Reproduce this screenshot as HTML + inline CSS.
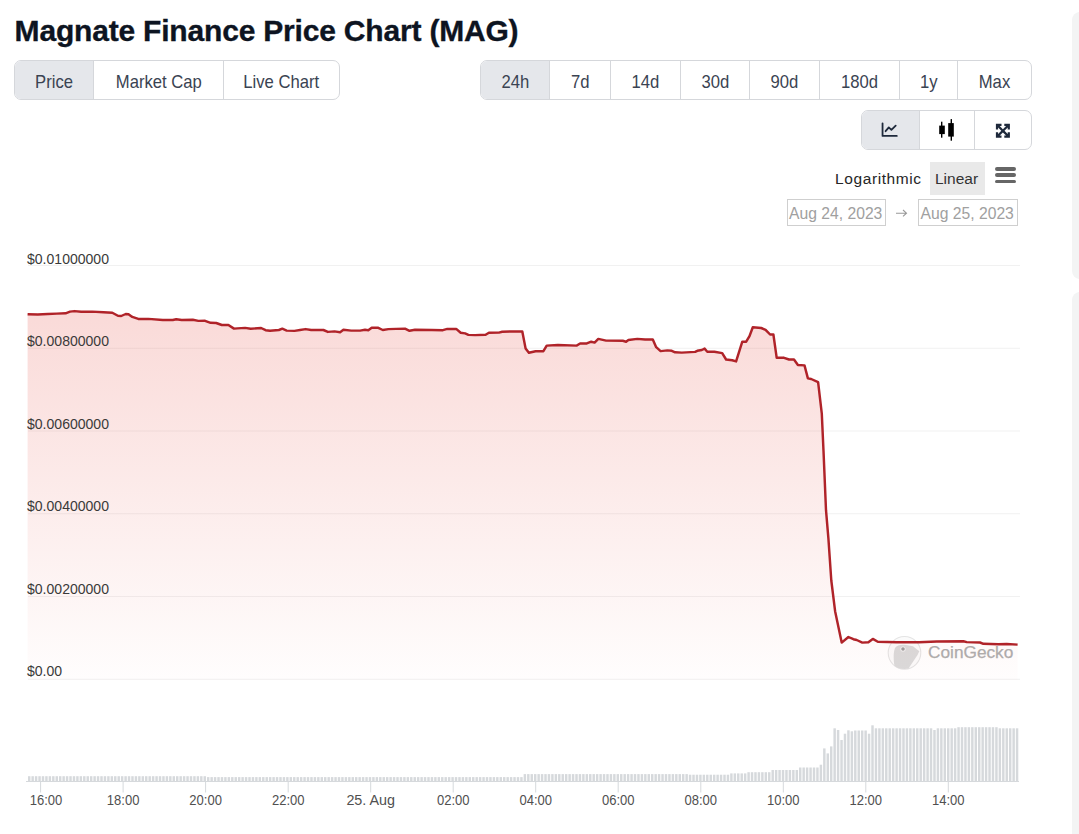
<!DOCTYPE html>
<html><head><meta charset="utf-8">
<style>
html,body{margin:0;padding:0;background:#fff;}
body{width:1079px;height:834px;overflow:hidden;position:relative;font-family:"Liberation Sans",sans-serif;}
.abs{position:absolute;}
h1{position:absolute;left:14.6px;top:13px;margin:0;font-size:30px;letter-spacing:-0.19px;-webkit-text-stroke:0.35px #0d1421;line-height:36px;font-weight:bold;color:#0d1421;white-space:nowrap;}
.grp{position:absolute;height:38px;border:1px solid #d5d7db;border-radius:7px;display:flex;overflow:hidden;background:#fff;}
.grp div{height:38px;line-height:41px;text-align:center;color:#3a4352;font-size:18.5px;border-left:1px solid #d5d7db;box-sizing:border-box;white-space:nowrap;}
.grp div:first-child{border-left:none;}
.grp div.on{background:#e5e7eb;}
.grp div span{display:inline-block;transform:scaleX(0.9);}
.side{position:absolute;left:1072px;width:20px;background:#f3f4f4;border-radius:8px;}
svg text{font-family:"Liberation Sans",sans-serif;}
</style></head>
<body>
<h1>Magnate Finance Price Chart (MAG)</h1>

<div class="grp" style="left:14px;top:60px;width:324px;">
  <div class="on" style="width:78px;"><span>Price</span></div>
  <div style="width:130px;"><span>Market Cap</span></div>
  <div style="width:116px;"><span>Live Chart</span></div>
</div>

<div class="grp" style="left:480px;top:60px;width:550px;">
  <div class="on" style="width:68px;"><span>24h</span></div>
  <div style="width:61px;"><span>7d</span></div>
  <div style="width:70px;"><span>14d</span></div>
  <div style="width:69px;"><span>30d</span></div>
  <div style="width:70px;"><span>90d</span></div>
  <div style="width:80px;"><span>180d</span></div>
  <div style="width:58px;"><span>1y</span></div>
  <div style="width:74px;"><span>Max</span></div>
</div>

<div class="grp" style="left:861px;top:110px;width:169px;">
  <div class="on" style="width:57px;"></div>
  <div style="width:55px;"></div>
  <div style="width:57px;"></div>
</div>

<div class="abs" style="left:835px;top:166.5px;font-size:15.5px;letter-spacing:0.6px;color:#262626;line-height:24px;">Logarithmic</div>
<div class="abs" style="left:930px;top:162px;width:55px;height:33px;background:#e9e9e9;"></div>
<div class="abs" style="left:935px;top:167px;font-size:15.5px;color:#333;line-height:24px;">Linear</div>
<div class="abs" style="left:995px;top:167px;width:21px;height:3.5px;background:#666;border-radius:2px;"></div>
<div class="abs" style="left:995px;top:173.3px;width:21px;height:3.5px;background:#666;border-radius:2px;"></div>
<div class="abs" style="left:995px;top:179.6px;width:21px;height:3.5px;background:#666;border-radius:2px;"></div>

<div class="abs" style="left:787px;top:199px;width:97px;height:25px;border:1px solid #cfcfcf;"></div>
<div class="abs" style="left:789px;top:201.5px;font-size:15.7px;color:#a0a0a0;line-height:24px;">Aug 24, 2023</div>

<div class="abs" style="left:918px;top:199px;width:98px;height:25px;border:1px solid #cfcfcf;"></div>
<div class="abs" style="left:920.5px;top:201.5px;font-size:15.7px;color:#a0a0a0;line-height:24px;">Aug 25, 2023</div>

<div class="side" style="top:12px;height:267px;"></div>
<div class="side" style="top:292px;height:560px;"></div>

<svg class="abs" style="left:0;top:0" width="1079" height="834" viewBox="0 0 1079 834">
  <defs>
    <linearGradient id="fg" x1="0" y1="311" x2="0" y2="680" gradientUnits="userSpaceOnUse">
      <stop offset="0" stop-color="#e5463c" stop-opacity="0.2"/>
      <stop offset="1" stop-color="#e5463c" stop-opacity="0.01"/>
    </linearGradient>
  </defs>

  <g fill="none" stroke="#1e293b" stroke-width="1.8" stroke-linecap="round" stroke-linejoin="round">
    <path d="M882.55,123.3 V135.9 H896.8"/>
    <path d="M885.6,131.2 L888.8,127.4 L891.4,129.9 L895.7,125.6"/>
  </g>
  <g fill="#000">
    <rect x="939.2" y="125.6" width="5.6" height="8.5"/><rect x="941" y="121.7" width="1.4" height="16"/>
    <rect x="948.2" y="123.1" width="5.6" height="13.5"/><rect x="950.6" y="119.1" width="1.4" height="21.6"/>
  </g>
  <g transform="translate(994.9,122.8)" fill="#1e293b"><path d="M1 1 H6.6 V3.2 H4.8 L8 6.4 L11.2 3.2 H9.4 V1 H15 V6.6 H12.8 V4.8 L9.6 8 L12.8 11.2 V9.4 H15 V15 H9.4 V12.8 H11.2 L8 9.6 L4.8 12.8 H6.6 V15 H1 V9.4 H3.2 V11.2 L6.4 8 L3.2 4.8 V6.6 H1 Z"/></g>
  <path d="M896,213.2 H906.5 M903,210 L906.5,213.2 L903,216.4" fill="none" stroke="#999" stroke-width="1.1"/>
  <g stroke="#f1f1f1" stroke-width="1"><line x1="28" x2="1020" y1="265.5" y2="265.5"/><line x1="28" x2="1020" y1="348.25" y2="348.25"/><line x1="28" x2="1020" y1="431.0" y2="431.0"/><line x1="28" x2="1020" y1="513.75" y2="513.75"/><line x1="28" x2="1020" y1="596.5" y2="596.5"/><line x1="28" x2="1020" y1="679.25" y2="679.25"/></g>
  <g opacity="1">
    <circle cx="904.5" cy="652.8" r="16.3" fill="#fbfbfb" stroke="#e4e4e4" stroke-width="1.1"/>
    <path d="M894.5,666 C893.3,660 893.3,652 895,648 C897,645 901,644.6 906,645 L913,646.3 L919.3,651.3 L917.5,655 L908.5,668.6 C903.5,669.6 898,668.6 894.5,666 Z" fill="#dadada"/>
    <circle cx="903" cy="649" r="2.6" fill="#f4f4f4"/>
    <circle cx="903" cy="649" r="1.8" fill="#9c9c9c"/>
    <text x="928" y="657.5" font-size="17.25" fill="#adadad" stroke="#adadad" stroke-width="0.25">CoinGecko</text>
  </g>
  <path d="M27.6,314.2 L37.8,314.5 L47.8,314.0 L56.7,313.6 L65.6,313.3 L70.0,311.6 L74.5,311.1 L81.2,311.8 L92.3,311.6 L103.4,312.2 L112.3,312.7 L117.9,315.8 L121.2,316.0 L125.7,314.0 L128.5,314.2 L132.3,316.9 L138.3,318.9 L148.3,318.9 L162.8,320.0 L172.8,320.0 L176.2,319.2 L181.7,320.0 L192.8,319.8 L198.4,320.9 L205.1,320.8 L210.6,322.8 L216.2,323.0 L221.8,325.0 L228.4,325.0 L234.0,328.6 L237.3,328.4 L245.1,327.9 L250.7,328.8 L261.1,328.0 L265.6,330.2 L270.0,330.8 L278.9,330.0 L282.3,328.7 L286.7,330.6 L294.5,330.9 L300.0,330.0 L305.6,329.1 L311.2,330.0 L323.4,330.0 L327.9,331.9 L334.5,331.4 L340.1,332.2 L343.4,329.8 L351.2,330.6 L360.1,330.6 L365.0,329.8 L368.3,330.2 L371.7,327.8 L378.3,327.8 L382.8,330.0 L388.4,329.1 L396.1,328.9 L405.0,328.7 L409.5,330.8 L415.0,329.8 L431.7,330.0 L442.9,330.2 L447.3,328.9 L456.2,328.9 L460.7,332.8 L465.1,333.4 L468.4,334.9 L475.1,335.1 L485.6,334.8 L488.9,332.8 L498.9,332.6 L502.2,331.7 L511.1,331.5 L522.3,331.5 L525.6,348.4 L528.9,352.8 L535.6,351.2 L543.4,351.2 L546.7,345.6 L557.9,345.0 L576.8,345.6 L580.1,343.4 L586.8,343.4 L591.2,341.7 L594.6,342.6 L598.3,338.9 L606.1,340.6 L622.8,340.8 L626.1,341.7 L628.4,340.0 L637.3,338.9 L645.1,339.5 L652.8,339.5 L656.2,347.2 L660.6,351.1 L667.3,350.4 L671.8,350.8 L675.1,352.3 L681.8,352.6 L695.1,351.9 L697.3,350.8 L701.8,350.0 L704.6,348.6 L707.3,351.7 L714.4,351.7 L722.2,353.1 L726.1,359.5 L732.2,360.3 L736.1,361.4 L742.3,341.7 L746.2,341.7 L749.5,336.1 L752.8,327.2 L761.2,328.0 L765.6,329.8 L770.1,334.5 L773.4,334.5 L776.7,357.8 L783.4,357.6 L789.0,359.5 L794.0,359.5 L797.9,365.0 L804.5,365.4 L807.9,378.4 L811.2,379.0 L818.1,382.1 L821.8,413.7 L823.5,450.7 L826.0,510.2 L828.4,538.3 L831.3,580.5 L835.1,611.2 L841.7,642.6 L848.4,637.0 L853.4,639.2 L856.7,640.0 L862.3,642.6 L868.4,642.2 L872.8,638.9 L877.8,641.7 L896.7,642.2 L919.0,642.2 L936.8,641.5 L963.4,641.3 L966.7,642.1 L980.0,642.5 L983.4,643.8 L998.4,644.2 L1006.7,644.0 L1017.6,644.6 L1017.6,680 L27.6,680 Z" fill="url(#fg)"/>
  <path d="M27.6,314.2 L37.8,314.5 L47.8,314.0 L56.7,313.6 L65.6,313.3 L70.0,311.6 L74.5,311.1 L81.2,311.8 L92.3,311.6 L103.4,312.2 L112.3,312.7 L117.9,315.8 L121.2,316.0 L125.7,314.0 L128.5,314.2 L132.3,316.9 L138.3,318.9 L148.3,318.9 L162.8,320.0 L172.8,320.0 L176.2,319.2 L181.7,320.0 L192.8,319.8 L198.4,320.9 L205.1,320.8 L210.6,322.8 L216.2,323.0 L221.8,325.0 L228.4,325.0 L234.0,328.6 L237.3,328.4 L245.1,327.9 L250.7,328.8 L261.1,328.0 L265.6,330.2 L270.0,330.8 L278.9,330.0 L282.3,328.7 L286.7,330.6 L294.5,330.9 L300.0,330.0 L305.6,329.1 L311.2,330.0 L323.4,330.0 L327.9,331.9 L334.5,331.4 L340.1,332.2 L343.4,329.8 L351.2,330.6 L360.1,330.6 L365.0,329.8 L368.3,330.2 L371.7,327.8 L378.3,327.8 L382.8,330.0 L388.4,329.1 L396.1,328.9 L405.0,328.7 L409.5,330.8 L415.0,329.8 L431.7,330.0 L442.9,330.2 L447.3,328.9 L456.2,328.9 L460.7,332.8 L465.1,333.4 L468.4,334.9 L475.1,335.1 L485.6,334.8 L488.9,332.8 L498.9,332.6 L502.2,331.7 L511.1,331.5 L522.3,331.5 L525.6,348.4 L528.9,352.8 L535.6,351.2 L543.4,351.2 L546.7,345.6 L557.9,345.0 L576.8,345.6 L580.1,343.4 L586.8,343.4 L591.2,341.7 L594.6,342.6 L598.3,338.9 L606.1,340.6 L622.8,340.8 L626.1,341.7 L628.4,340.0 L637.3,338.9 L645.1,339.5 L652.8,339.5 L656.2,347.2 L660.6,351.1 L667.3,350.4 L671.8,350.8 L675.1,352.3 L681.8,352.6 L695.1,351.9 L697.3,350.8 L701.8,350.0 L704.6,348.6 L707.3,351.7 L714.4,351.7 L722.2,353.1 L726.1,359.5 L732.2,360.3 L736.1,361.4 L742.3,341.7 L746.2,341.7 L749.5,336.1 L752.8,327.2 L761.2,328.0 L765.6,329.8 L770.1,334.5 L773.4,334.5 L776.7,357.8 L783.4,357.6 L789.0,359.5 L794.0,359.5 L797.9,365.0 L804.5,365.4 L807.9,378.4 L811.2,379.0 L818.1,382.1 L821.8,413.7 L823.5,450.7 L826.0,510.2 L828.4,538.3 L831.3,580.5 L835.1,611.2 L841.7,642.6 L848.4,637.0 L853.4,639.2 L856.7,640.0 L862.3,642.6 L868.4,642.2 L872.8,638.9 L877.8,641.7 L896.7,642.2 L919.0,642.2 L936.8,641.5 L963.4,641.3 L966.7,642.1 L980.0,642.5 L983.4,643.8 L998.4,644.2 L1006.7,644.0 L1017.6,644.6" fill="none" stroke="#b02329" stroke-width="2.45" stroke-linejoin="round" stroke-linecap="butt"/>
  <g fill="#d6d9dc"><rect x="28.00" y="776.2" width="2.44" height="5.3"/><rect x="31.44" y="776.2" width="2.44" height="5.3"/><rect x="34.88" y="776.2" width="2.44" height="5.3"/><rect x="38.33" y="776.2" width="2.44" height="5.3"/><rect x="41.77" y="776.2" width="2.44" height="5.3"/><rect x="45.21" y="776.2" width="2.44" height="5.3"/><rect x="48.65" y="776.2" width="2.44" height="5.3"/><rect x="52.09" y="776.2" width="2.44" height="5.3"/><rect x="55.54" y="776.2" width="2.44" height="5.3"/><rect x="58.98" y="776.2" width="2.44" height="5.3"/><rect x="62.42" y="776.2" width="2.44" height="5.3"/><rect x="65.86" y="776.2" width="2.44" height="5.3"/><rect x="69.30" y="776.2" width="2.44" height="5.3"/><rect x="72.75" y="776.2" width="2.44" height="5.3"/><rect x="76.19" y="776.2" width="2.44" height="5.3"/><rect x="79.63" y="776.2" width="2.44" height="5.3"/><rect x="83.07" y="776.2" width="2.44" height="5.3"/><rect x="86.51" y="776.2" width="2.44" height="5.3"/><rect x="89.96" y="776.2" width="2.44" height="5.3"/><rect x="93.40" y="776.2" width="2.44" height="5.3"/><rect x="96.84" y="776.2" width="2.44" height="5.3"/><rect x="100.28" y="776.2" width="2.44" height="5.3"/><rect x="103.72" y="776.2" width="2.44" height="5.3"/><rect x="107.17" y="776.2" width="2.44" height="5.3"/><rect x="110.61" y="776.2" width="2.44" height="5.3"/><rect x="114.05" y="776.2" width="2.44" height="5.3"/><rect x="117.49" y="776.2" width="2.44" height="5.3"/><rect x="120.93" y="776.2" width="2.44" height="5.3"/><rect x="124.38" y="776.2" width="2.44" height="5.3"/><rect x="127.82" y="776.2" width="2.44" height="5.3"/><rect x="131.26" y="776.2" width="2.44" height="5.3"/><rect x="134.70" y="776.2" width="2.44" height="5.3"/><rect x="138.14" y="776.2" width="2.44" height="5.3"/><rect x="141.59" y="776.2" width="2.44" height="5.3"/><rect x="145.03" y="776.2" width="2.44" height="5.3"/><rect x="148.47" y="776.2" width="2.44" height="5.3"/><rect x="151.91" y="776.2" width="2.44" height="5.3"/><rect x="155.35" y="776.2" width="2.44" height="5.3"/><rect x="158.80" y="776.2" width="2.44" height="5.3"/><rect x="162.24" y="776.2" width="2.44" height="5.3"/><rect x="165.68" y="776.2" width="2.44" height="5.3"/><rect x="169.12" y="776.2" width="2.44" height="5.3"/><rect x="172.56" y="776.2" width="2.44" height="5.3"/><rect x="176.01" y="776.2" width="2.44" height="5.3"/><rect x="179.45" y="776.2" width="2.44" height="5.3"/><rect x="182.89" y="776.2" width="2.44" height="5.3"/><rect x="186.33" y="776.2" width="2.44" height="5.3"/><rect x="189.77" y="776.2" width="2.44" height="5.3"/><rect x="193.22" y="776.2" width="2.44" height="5.3"/><rect x="196.66" y="776.2" width="2.44" height="5.3"/><rect x="200.10" y="776.2" width="2.44" height="5.3"/><rect x="203.54" y="776.2" width="2.44" height="5.3"/><rect x="206.98" y="777.1" width="2.44" height="4.4"/><rect x="210.43" y="777.1" width="2.44" height="4.4"/><rect x="213.87" y="777.1" width="2.44" height="4.4"/><rect x="217.31" y="777.1" width="2.44" height="4.4"/><rect x="220.75" y="777.1" width="2.44" height="4.4"/><rect x="224.19" y="777.1" width="2.44" height="4.4"/><rect x="227.64" y="777.1" width="2.44" height="4.4"/><rect x="231.08" y="777.1" width="2.44" height="4.4"/><rect x="234.52" y="777.1" width="2.44" height="4.4"/><rect x="237.96" y="777.1" width="2.44" height="4.4"/><rect x="241.40" y="777.1" width="2.44" height="4.4"/><rect x="244.85" y="777.1" width="2.44" height="4.4"/><rect x="248.29" y="777.1" width="2.44" height="4.4"/><rect x="251.73" y="777.1" width="2.44" height="4.4"/><rect x="255.17" y="777.1" width="2.44" height="4.4"/><rect x="258.61" y="777.1" width="2.44" height="4.4"/><rect x="262.06" y="777.1" width="2.44" height="4.4"/><rect x="265.50" y="777.1" width="2.44" height="4.4"/><rect x="268.94" y="777.1" width="2.44" height="4.4"/><rect x="272.38" y="777.1" width="2.44" height="4.4"/><rect x="275.82" y="777.1" width="2.44" height="4.4"/><rect x="279.27" y="777.1" width="2.44" height="4.4"/><rect x="282.71" y="777.1" width="2.44" height="4.4"/><rect x="286.15" y="777.1" width="2.44" height="4.4"/><rect x="289.59" y="777.1" width="2.44" height="4.4"/><rect x="293.04" y="777.1" width="2.44" height="4.4"/><rect x="296.48" y="777.1" width="2.44" height="4.4"/><rect x="299.92" y="777.1" width="2.44" height="4.4"/><rect x="303.36" y="777.1" width="2.44" height="4.4"/><rect x="306.80" y="777.1" width="2.44" height="4.4"/><rect x="310.25" y="777.1" width="2.44" height="4.4"/><rect x="313.69" y="777.1" width="2.44" height="4.4"/><rect x="317.13" y="777.1" width="2.44" height="4.4"/><rect x="320.57" y="777.1" width="2.44" height="4.4"/><rect x="324.01" y="777.1" width="2.44" height="4.4"/><rect x="327.46" y="777.1" width="2.44" height="4.4"/><rect x="330.90" y="777.1" width="2.44" height="4.4"/><rect x="334.34" y="777.1" width="2.44" height="4.4"/><rect x="337.78" y="777.1" width="2.44" height="4.4"/><rect x="341.22" y="777.1" width="2.44" height="4.4"/><rect x="344.67" y="777.1" width="2.44" height="4.4"/><rect x="348.11" y="777.1" width="2.44" height="4.4"/><rect x="351.55" y="777.1" width="2.44" height="4.4"/><rect x="354.99" y="777.1" width="2.44" height="4.4"/><rect x="358.43" y="777.1" width="2.44" height="4.4"/><rect x="361.88" y="777.1" width="2.44" height="4.4"/><rect x="365.32" y="777.1" width="2.44" height="4.4"/><rect x="368.76" y="777.1" width="2.44" height="4.4"/><rect x="372.20" y="777.1" width="2.44" height="4.4"/><rect x="375.64" y="777.1" width="2.44" height="4.4"/><rect x="379.09" y="777.1" width="2.44" height="4.4"/><rect x="382.53" y="777.1" width="2.44" height="4.4"/><rect x="385.97" y="777.1" width="2.44" height="4.4"/><rect x="389.41" y="777.1" width="2.44" height="4.4"/><rect x="392.85" y="777.1" width="2.44" height="4.4"/><rect x="396.30" y="777.1" width="2.44" height="4.4"/><rect x="399.74" y="777.1" width="2.44" height="4.4"/><rect x="403.18" y="777.1" width="2.44" height="4.4"/><rect x="406.62" y="777.1" width="2.44" height="4.4"/><rect x="410.06" y="777.1" width="2.44" height="4.4"/><rect x="413.51" y="777.1" width="2.44" height="4.4"/><rect x="416.95" y="777.1" width="2.44" height="4.4"/><rect x="420.39" y="777.1" width="2.44" height="4.4"/><rect x="423.83" y="777.1" width="2.44" height="4.4"/><rect x="427.27" y="777.1" width="2.44" height="4.4"/><rect x="430.72" y="777.1" width="2.44" height="4.4"/><rect x="434.16" y="777.1" width="2.44" height="4.4"/><rect x="437.60" y="777.1" width="2.44" height="4.4"/><rect x="441.04" y="777.1" width="2.44" height="4.4"/><rect x="444.48" y="777.1" width="2.44" height="4.4"/><rect x="447.93" y="777.1" width="2.44" height="4.4"/><rect x="451.37" y="777.1" width="2.44" height="4.4"/><rect x="454.81" y="777.1" width="2.44" height="4.4"/><rect x="458.25" y="777.1" width="2.44" height="4.4"/><rect x="461.69" y="777.1" width="2.44" height="4.4"/><rect x="465.14" y="777.1" width="2.44" height="4.4"/><rect x="468.58" y="777.1" width="2.44" height="4.4"/><rect x="472.02" y="777.1" width="2.44" height="4.4"/><rect x="475.46" y="777.1" width="2.44" height="4.4"/><rect x="478.90" y="777.1" width="2.44" height="4.4"/><rect x="482.35" y="777.1" width="2.44" height="4.4"/><rect x="485.79" y="777.1" width="2.44" height="4.4"/><rect x="489.23" y="777.1" width="2.44" height="4.4"/><rect x="492.67" y="777.1" width="2.44" height="4.4"/><rect x="496.11" y="777.1" width="2.44" height="4.4"/><rect x="499.56" y="777.1" width="2.44" height="4.4"/><rect x="503.00" y="777.1" width="2.44" height="4.4"/><rect x="506.44" y="777.1" width="2.44" height="4.4"/><rect x="509.88" y="777.1" width="2.44" height="4.4"/><rect x="513.32" y="777.1" width="2.44" height="4.4"/><rect x="516.77" y="777.1" width="2.44" height="4.4"/><rect x="520.21" y="777.1" width="2.44" height="4.4"/><rect x="523.65" y="774.1" width="2.44" height="7.4"/><rect x="527.09" y="774.1" width="2.44" height="7.4"/><rect x="530.53" y="774.1" width="2.44" height="7.4"/><rect x="533.98" y="774.1" width="2.44" height="7.4"/><rect x="537.42" y="774.1" width="2.44" height="7.4"/><rect x="540.86" y="774.1" width="2.44" height="7.4"/><rect x="544.30" y="774.1" width="2.44" height="7.4"/><rect x="547.74" y="774.1" width="2.44" height="7.4"/><rect x="551.19" y="774.1" width="2.44" height="7.4"/><rect x="554.63" y="774.1" width="2.44" height="7.4"/><rect x="558.07" y="774.1" width="2.44" height="7.4"/><rect x="561.51" y="774.1" width="2.44" height="7.4"/><rect x="564.95" y="774.1" width="2.44" height="7.4"/><rect x="568.40" y="774.1" width="2.44" height="7.4"/><rect x="571.84" y="774.1" width="2.44" height="7.4"/><rect x="575.28" y="774.1" width="2.44" height="7.4"/><rect x="578.72" y="774.1" width="2.44" height="7.4"/><rect x="582.16" y="774.1" width="2.44" height="7.4"/><rect x="585.61" y="774.1" width="2.44" height="7.4"/><rect x="589.05" y="774.1" width="2.44" height="7.4"/><rect x="592.49" y="774.1" width="2.44" height="7.4"/><rect x="595.93" y="774.1" width="2.44" height="7.4"/><rect x="599.37" y="774.1" width="2.44" height="7.4"/><rect x="602.82" y="774.1" width="2.44" height="7.4"/><rect x="606.26" y="774.1" width="2.44" height="7.4"/><rect x="609.70" y="774.1" width="2.44" height="7.4"/><rect x="613.14" y="774.1" width="2.44" height="7.4"/><rect x="616.58" y="774.1" width="2.44" height="7.4"/><rect x="620.03" y="774.1" width="2.44" height="7.4"/><rect x="623.47" y="774.1" width="2.44" height="7.4"/><rect x="626.91" y="774.1" width="2.44" height="7.4"/><rect x="630.35" y="774.1" width="2.44" height="7.4"/><rect x="633.79" y="774.1" width="2.44" height="7.4"/><rect x="637.24" y="774.1" width="2.44" height="7.4"/><rect x="640.68" y="774.1" width="2.44" height="7.4"/><rect x="644.12" y="774.1" width="2.44" height="7.4"/><rect x="647.56" y="774.1" width="2.44" height="7.4"/><rect x="651.00" y="774.1" width="2.44" height="7.4"/><rect x="654.45" y="774.1" width="2.44" height="7.4"/><rect x="657.89" y="774.1" width="2.44" height="7.4"/><rect x="661.33" y="774.1" width="2.44" height="7.4"/><rect x="664.77" y="774.1" width="2.44" height="7.4"/><rect x="668.21" y="774.1" width="2.44" height="7.4"/><rect x="671.66" y="774.1" width="2.44" height="7.4"/><rect x="675.10" y="774.1" width="2.44" height="7.4"/><rect x="678.54" y="774.1" width="2.44" height="7.4"/><rect x="681.98" y="774.1" width="2.44" height="7.4"/><rect x="685.42" y="774.1" width="2.44" height="7.4"/><rect x="688.87" y="774.7" width="2.44" height="6.8"/><rect x="692.31" y="774.7" width="2.44" height="6.8"/><rect x="695.75" y="774.7" width="2.44" height="6.8"/><rect x="699.19" y="774.7" width="2.44" height="6.8"/><rect x="702.63" y="774.7" width="2.44" height="6.8"/><rect x="706.08" y="774.7" width="2.44" height="6.8"/><rect x="709.52" y="774.7" width="2.44" height="6.8"/><rect x="712.96" y="774.7" width="2.44" height="6.8"/><rect x="716.40" y="774.7" width="2.44" height="6.8"/><rect x="719.84" y="774.7" width="2.44" height="6.8"/><rect x="723.29" y="774.7" width="2.44" height="6.8"/><rect x="726.73" y="774.7" width="2.44" height="6.8"/><rect x="730.17" y="773.4" width="2.44" height="8.1"/><rect x="733.61" y="773.4" width="2.44" height="8.1"/><rect x="737.05" y="773.4" width="2.44" height="8.1"/><rect x="740.50" y="773.4" width="2.44" height="8.1"/><rect x="743.94" y="773.4" width="2.44" height="8.1"/><rect x="747.38" y="772.2" width="2.44" height="9.3"/><rect x="750.82" y="772.2" width="2.44" height="9.3"/><rect x="754.26" y="772.2" width="2.44" height="9.3"/><rect x="757.71" y="772.2" width="2.44" height="9.3"/><rect x="761.15" y="772.2" width="2.44" height="9.3"/><rect x="764.59" y="772.2" width="2.44" height="9.3"/><rect x="768.03" y="772.2" width="2.44" height="9.3"/><rect x="771.48" y="770.0" width="2.44" height="11.5"/><rect x="774.92" y="770.0" width="2.44" height="11.5"/><rect x="778.36" y="770.0" width="2.44" height="11.5"/><rect x="781.80" y="770.0" width="2.44" height="11.5"/><rect x="785.24" y="770.0" width="2.44" height="11.5"/><rect x="788.69" y="770.0" width="2.44" height="11.5"/><rect x="792.13" y="770.0" width="2.44" height="11.5"/><rect x="795.57" y="770.0" width="2.44" height="11.5"/><rect x="799.01" y="767.5" width="2.44" height="14.0"/><rect x="802.45" y="767.5" width="2.44" height="14.0"/><rect x="805.90" y="767.5" width="2.44" height="14.0"/><rect x="809.34" y="767.5" width="2.44" height="14.0"/><rect x="812.78" y="767.5" width="2.44" height="14.0"/><rect x="816.22" y="767.5" width="2.44" height="14.0"/><rect x="819.66" y="764.7" width="2.44" height="16.8"/><rect x="823.11" y="748.4" width="2.44" height="33.1"/><rect x="826.55" y="753.4" width="2.44" height="28.1"/><rect x="829.99" y="746.4" width="2.44" height="35.1"/><rect x="833.43" y="728.3" width="2.44" height="53.2"/><rect x="836.87" y="730.0" width="2.44" height="51.5"/><rect x="840.32" y="740.0" width="2.44" height="41.5"/><rect x="843.76" y="733.7" width="2.44" height="47.8"/><rect x="847.20" y="730.3" width="2.44" height="51.2"/><rect x="850.64" y="731.3" width="2.44" height="50.2"/><rect x="854.08" y="730.5" width="2.44" height="51.0"/><rect x="857.53" y="730.5" width="2.44" height="51.0"/><rect x="860.97" y="730.5" width="2.44" height="51.0"/><rect x="864.41" y="730.5" width="2.44" height="51.0"/><rect x="867.85" y="733.7" width="2.44" height="47.8"/><rect x="871.29" y="725.3" width="2.44" height="56.2"/><rect x="874.74" y="728.3" width="2.44" height="53.2"/><rect x="878.18" y="728.3" width="2.44" height="53.2"/><rect x="881.62" y="728.3" width="2.44" height="53.2"/><rect x="885.06" y="728.3" width="2.44" height="53.2"/><rect x="888.50" y="728.3" width="2.44" height="53.2"/><rect x="891.95" y="728.3" width="2.44" height="53.2"/><rect x="895.39" y="728.3" width="2.44" height="53.2"/><rect x="898.83" y="728.3" width="2.44" height="53.2"/><rect x="902.27" y="728.3" width="2.44" height="53.2"/><rect x="905.71" y="728.3" width="2.44" height="53.2"/><rect x="909.16" y="728.3" width="2.44" height="53.2"/><rect x="912.60" y="728.3" width="2.44" height="53.2"/><rect x="916.04" y="728.3" width="2.44" height="53.2"/><rect x="919.48" y="728.3" width="2.44" height="53.2"/><rect x="922.92" y="728.3" width="2.44" height="53.2"/><rect x="926.37" y="728.3" width="2.44" height="53.2"/><rect x="929.81" y="728.3" width="2.44" height="53.2"/><rect x="933.25" y="730.0" width="2.44" height="51.5"/><rect x="936.69" y="728.3" width="2.44" height="53.2"/><rect x="940.13" y="728.3" width="2.44" height="53.2"/><rect x="943.58" y="728.3" width="2.44" height="53.2"/><rect x="947.02" y="728.3" width="2.44" height="53.2"/><rect x="950.46" y="728.3" width="2.44" height="53.2"/><rect x="953.90" y="728.3" width="2.44" height="53.2"/><rect x="957.34" y="727.2" width="2.44" height="54.3"/><rect x="960.79" y="727.2" width="2.44" height="54.3"/><rect x="964.23" y="727.2" width="2.44" height="54.3"/><rect x="967.67" y="727.2" width="2.44" height="54.3"/><rect x="971.11" y="727.2" width="2.44" height="54.3"/><rect x="974.55" y="727.2" width="2.44" height="54.3"/><rect x="978.00" y="727.2" width="2.44" height="54.3"/><rect x="981.44" y="727.2" width="2.44" height="54.3"/><rect x="984.88" y="727.2" width="2.44" height="54.3"/><rect x="988.32" y="727.2" width="2.44" height="54.3"/><rect x="991.76" y="727.2" width="2.44" height="54.3"/><rect x="995.21" y="727.2" width="2.44" height="54.3"/><rect x="998.65" y="728.3" width="2.44" height="53.2"/><rect x="1002.09" y="728.3" width="2.44" height="53.2"/><rect x="1005.53" y="728.3" width="2.44" height="53.2"/><rect x="1008.97" y="728.3" width="2.44" height="53.2"/><rect x="1012.42" y="728.3" width="2.44" height="53.2"/><rect x="1015.86" y="728.3" width="2.44" height="53.2"/></g>
  <line x1="26" x2="1019" y1="781.5" y2="781.5" stroke="#d6d9dc" stroke-width="1"/>
  <g stroke="#d6d9dc" stroke-width="1"><line x1="40.6" x2="40.6" y1="781.5" y2="792.5"/><line x1="123.1" x2="123.1" y1="781.5" y2="792.5"/><line x1="205.6" x2="205.6" y1="781.5" y2="792.5"/><line x1="288.2" x2="288.2" y1="781.5" y2="792.5"/><line x1="370.7" x2="370.7" y1="781.5" y2="792.5"/><line x1="453.2" x2="453.2" y1="781.5" y2="792.5"/><line x1="535.7" x2="535.7" y1="781.5" y2="792.5"/><line x1="618.2" x2="618.2" y1="781.5" y2="792.5"/><line x1="700.8" x2="700.8" y1="781.5" y2="792.5"/><line x1="783.3" x2="783.3" y1="781.5" y2="792.5"/><line x1="865.8" x2="865.8" y1="781.5" y2="792.5"/><line x1="948.3" x2="948.3" y1="781.5" y2="792.5"/></g>
  <g font-size="14.5" fill="#505050" text-anchor="middle"><text transform="translate(46.0,804.8) scale(0.9,1)">16:00</text><text transform="translate(123.1,804.8) scale(0.9,1)">18:00</text><text transform="translate(205.6,804.8) scale(0.9,1)">20:00</text><text transform="translate(288.2,804.8) scale(0.9,1)">22:00</text><text transform="translate(370.7,804.8) scale(0.99,1)">25. Aug</text><text transform="translate(453.2,804.8) scale(0.9,1)">02:00</text><text transform="translate(535.7,804.8) scale(0.9,1)">04:00</text><text transform="translate(618.2,804.8) scale(0.9,1)">06:00</text><text transform="translate(700.8,804.8) scale(0.9,1)">08:00</text><text transform="translate(783.3,804.8) scale(0.9,1)">10:00</text><text transform="translate(865.8,804.8) scale(0.9,1)">12:00</text><text transform="translate(948.3,804.8) scale(0.9,1)">14:00</text></g>
  <g font-size="15.2" fill="#3a3a3a"><text transform="translate(27,263.9) scale(0.924,1)">$0.01000000</text><text transform="translate(27,346.3) scale(0.924,1)">$0.00800000</text><text transform="translate(27,428.7) scale(0.924,1)">$0.00600000</text><text transform="translate(27,511.1) scale(0.924,1)">$0.00400000</text><text transform="translate(27,593.5) scale(0.924,1)">$0.00200000</text><text transform="translate(27,675.9) scale(0.924,1)">$0.00</text></g>

</svg>
</body></html>
